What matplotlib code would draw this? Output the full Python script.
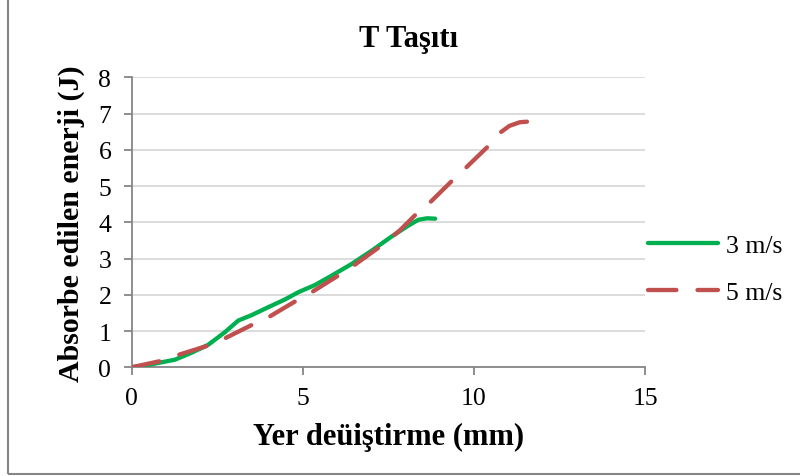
import matplotlib
matplotlib.use("Agg")
import matplotlib.pyplot as plt
from matplotlib.patches import Rectangle

# Displacement (mm) and absorbed energy (J) for the two impact speeds
x_3ms = [0.0, 0.39, 0.78, 1.27, 1.75, 2.24, 2.73, 3.12, 3.51, 4.00, 4.48, 4.87, 5.36, 5.85,
         6.43, 7.02, 7.60, 8.09, 8.38, 8.63, 8.87]
y_3ms = [0.0, 0.05, 0.12, 0.21, 0.40, 0.62, 0.97, 1.29, 1.44, 1.66, 1.87, 2.07, 2.27, 2.53,
         2.85, 3.22, 3.61, 3.91, 4.07, 4.11, 4.10]

x_5ms = [0.0, 0.88, 1.36, 2.24, 2.73, 3.56, 4.00, 4.82, 5.26, 6.04, 6.48, 7.26, 7.83, 8.32,
         8.69, 9.39, 9.73, 10.41, 10.75, 11.04, 11.34, 11.61]
y_5ms = [0.0, 0.18, 0.34, 0.60, 0.80, 1.19, 1.38, 1.84, 2.07, 2.53, 2.80, 3.33, 3.77, 4.23,
         4.52, 5.17, 5.47, 6.09, 6.46, 6.66, 6.76, 6.78]

series_labels = ["3 m/s", "5 m/s"]
x_ticks = [0, 5, 10, 15]
y_ticks = [0, 1, 2, 3, 4, 5, 6, 7, 8]

plt.rcParams["font.family"] = ["Liberation Serif", "DejaVu Serif"]

W, H = 800, 477
fig = plt.figure(figsize=(W / 100, H / 100), dpi=100)
fig.patches.append(Rectangle((8 / W, 2 / H), 1.2, 1.2, transform=fig.transFigure,
                             fill=False, edgecolor="#868686", linewidth=1.5))

# plot area: x 0..15 spans pixels 131.5..645, y 0..8 spans 368.3..78.3
ax = fig.add_axes([131.5 / W, 1 - 368.3 / H, 513.5 / W, 290 / H])

green = "#00b050"
red = "#c0504d"
lw = 3.1
ax.plot(x_3ms, y_3ms, color=green, lw=lw, solid_capstyle="round",
        solid_joinstyle="round", label=series_labels[0], zorder=3)
ax.plot(x_5ms, y_5ms, color=red, lw=lw, linestyle=(0, (6.6, 4.9)),
        dash_capstyle="round", dash_joinstyle="round", label=series_labels[1], zorder=4)

ax.set_xlim(0, 15)
ax.set_ylim(0, 8)
ax.set_xticks(x_ticks)
ax.set_yticks(y_ticks)
ax.grid(axis="y", color="#d9d9d9", linewidth=1.3)
ax.set_axisbelow(True)

for side in ("top", "right"):
    ax.spines[side].set_visible(False)
for side in ("left", "bottom"):
    ax.spines[side].set_color("#868686")
    ax.spines[side].set_linewidth(1.3)
ax.tick_params(axis="both", colors="#868686", labelcolor="black", labelsize=18.5,
               length=5.5, width=1.3, direction="out")
ax.tick_params(axis="y", pad=9)
ax.tick_params(axis="x", pad=9)

fig.text(409 / W, 1 - 40 / H, "T Taşıtı", fontsize=22, fontweight="bold",
         ha="center", va="center")
ax.set_xlabel("Yer deüiştirme (mm)", fontsize=22, fontweight="bold", labelpad=9)
ax.set_ylabel("Absorbe edilen enerji (J)", fontsize=21.5, fontweight="bold", labelpad=10)

ax.legend(loc="center left", bbox_to_anchor=(1.0, 0.339), frameon=False, fontsize=18.5,
          handlelength=2.75, handletextpad=0.3, labelspacing=0.92,
          borderaxespad=0.0, borderpad=0.1)

fig.savefig("out.png", dpi=100)
